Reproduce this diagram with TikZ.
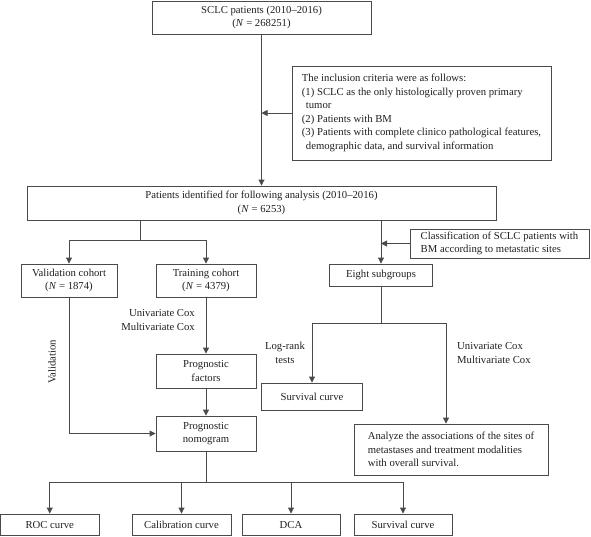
\documentclass[tikz,border=0pt]{standalone}
\usepackage{fontspec}
\setmainfont{Liberation Serif}
\usetikzlibrary{arrows.meta,calc}
\definecolor{linec}{HTML}{4A4A4A}
\definecolor{textc}{HTML}{231F20}
\begin{document}
\begin{tikzpicture}[x=1pt,y=-1pt,
  box/.style={draw=linec, line width=0.9pt, inner sep=0pt, font=\fontsize{10.7}{13.5}\selectfont, align=center, text=textc},
  lbox/.style={box, align=left},
  lbl/.style={inner sep=0pt, font=\fontsize{10.7}{13.5}\selectfont, text=textc},
  conn/.style={draw=linec, line width=0.9pt},
  arr/.style={conn, -{Triangle[length=6pt,width=6pt]}}
]
\useasboundingbox (0,0) rectangle (591,536);

% boxes
\node[box, minimum width=219, minimum height=33] (top) at (261.5,17.5) {SCLC patients (2010–2016)\\(\textit{N} = 268251)};
\node[lbox, minimum width=259, minimum height=94] (inc) at (421.5,113) {The inclusion criteria were as follows:\\(1) SCLC as the only histologically proven primary\\\hspace*{4pt}tumor\\(2) Patients with BM\\(3) Patients with complete clinico pathological features,\\\hspace*{4pt}demographic data, and survival information};
\node[box, minimum width=469, minimum height=34] (big) at (261.5,203) {Patients identified for following analysis (2010–2016)\\(\textit{N} = 6253)};
\node[lbox, minimum width=179, minimum height=29] (cls) at (499.5,243.5) {Classification of SCLC patients with\\BM according to metastatic sites};
\node[box, minimum width=96, minimum height=33] (val) at (69,280.5) {Validation cohort\\(\textit{N} = 1874)};
\node[box, minimum width=100, minimum height=33] (train) at (206,280.5) {Training cohort\\(\textit{N} = 4379)};
\node[box, minimum width=103, minimum height=22] (eight) at (381,275) {Eight subgroups};
\node[box, minimum width=100, minimum height=34] (fac) at (206,371) {Prognostic\\factors};
\node[box, minimum width=100, minimum height=35] (nom) at (206,433.5) {Prognostic\\nomogram};
\node[box, minimum width=101, minimum height=27] (survm) at (312,396.5) {Survival curve};
\node[lbox, minimum width=194, minimum height=51] (an) at (451,449.5) {Analyze the associations of the sites of\\metastases and treatment modalities\\with overall survival.};
\node[box, minimum width=98.5, minimum height=21] (roc) at (49.75,524.5) {ROC curve};
\node[box, minimum width=99, minimum height=21] (cal) at (181.5,524.5) {Calibration curve};
\node[box, minimum width=98, minimum height=21] (dca) at (291,524.5) {DCA};
\node[box, minimum width=98, minimum height=21] (sv) at (403,524.5) {Survival curve};

% labels
\node[lbl, align=right, anchor=east] (l1) at (195,320) {Univariate Cox\\Multivariate Cox};
\node[lbl, align=center] (l2) at (285,353) {Log-rank\\tests};
\node[lbl, align=left, anchor=west] (l3) at (457,353) {Univariate Cox\\Multivariate Cox};
\node[lbl, rotate=90] (l4) at (52,362) {Validation};

% connectors
\draw[arr] (top.south) -- (big.north);
\draw[arr] (inc.west) -- (inc.west -| top.south);
\coordinate (j1) at (140,240);
\draw[conn] (j1 |- big.south) -- (j1);
\draw[arr] (j1) -| (val.north);
\draw[arr] (j1) -| (train.north);
\coordinate (j2) at (381,240);
\draw[arr] (j2 |- big.south) -- (eight.north);
\draw[arr] (cls.west) -- (cls.west -| j2);
\coordinate (j3) at (381,323);
\coordinate (j4) at (446,323);
\draw[conn] (eight.south) -- (j3);
\draw[arr] (j3) -| (survm.north);
\draw[arr] (j3) -- (j4) -- (j4 |- an.north);
\draw[arr] (train.south) -- (fac.north);
\draw[arr] (fac.south) -- (nom.north);
\draw[arr] (val.south) |- (nom.west);
\coordinate (j5) at (206,482);
\draw[conn] (nom.south) -- (j5);
\draw[arr] (j5) -| (roc.north);
\draw[arr] (j5) -| (cal.north);
\draw[arr] (j5) -| (dca.north);
\draw[arr] (j5) -| (sv.north);
\end{tikzpicture}
\end{document}
